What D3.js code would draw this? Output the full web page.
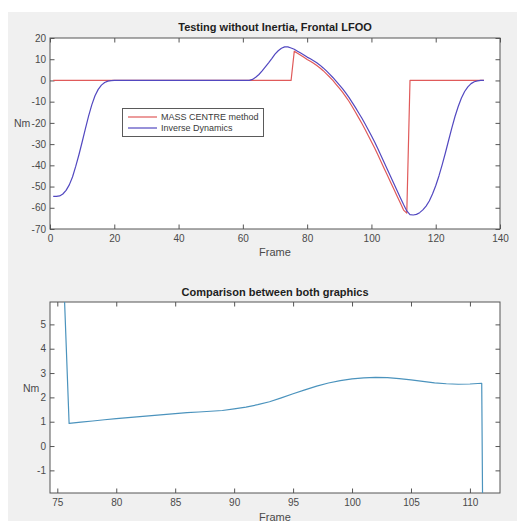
<!DOCTYPE html>
<html>
<head>
<meta charset="utf-8">
<script src="https://cdn.jsdelivr.net/npm/d3@7"></script>
<style>
  html, body { margin: 0; padding: 0; background: #ffffff; }
  svg { display: block; font-family: "Liberation Sans", Arial, sans-serif; }
</style>
</head>
<body>
<svg id="fig" width="517" height="521"></svg>
<script>
// data
// ---------------------------------------------------------

// top panel: frames 1..135
const frames = d3.range(1, 136);

const inverseDynamics = [
    -54.6, -54.6, -54.4, -53.5, -51.8, -49.2, -45.5, -40.5, -35.0, -29.0,   // 1-10
    -22.8, -16.8, -11.5, -7.2, -4.2, -2.2, -1.0, -0.3, -0.1, 0,             // 11-20
    0, 0, 0, 0, 0, 0, 0, 0, 0, 0,                                           // 21-30
    0, 0, 0, 0, 0, 0, 0, 0, 0, 0,                                           // 31-40
    0, 0, 0, 0, 0, 0, 0, 0, 0, 0,                                           // 41-50
    0, 0, 0, 0, 0, 0, 0, 0, 0, 0,                                           // 51-60
    0, 0, 0.5, 1.5, 2.8, 4.5, 6.4, 8.3, 10.3, 12.4,                         // 61-70
    14.0, 15.2, 15.8, 15.8, 15.3, 14.7, 13.8, 12.9, 12.0, 11.0,             // 71-80
    10.2, 9.3, 8.3, 7.2, 5.9, 4.5, 3.0, 1.4, -0.3, -2.1,                    // 81-90
    -3.9, -5.9, -8.0, -10.3, -12.7, -15.2, -17.7, -20.4, -23.2, -26.1,      // 91-100
    -29.0, -32.2, -35.5, -38.8, -42.1, -45.4, -48.7, -52.0, -55.3, -58.5,   // 101-110
    -61.5, -63.2, -63.4, -63.1, -62.3, -61.0, -59.2, -56.8, -53.5, -49.6,   // 111-120
    -45.0, -39.8, -34.2, -28.3, -22.5, -17.0, -12.3, -8.3, -5.2, -3.0,      // 121-130
    -1.5, -0.6, -0.2, 0, 0                                                  // 131-135
];

const massCentre = [
    0, 0, 0, 0, 0, 0, 0, 0, 0, 0,                                           // 1-10
    0, 0, 0, 0, 0, 0, 0, 0, 0, 0,                                           // 11-20
    0, 0, 0, 0, 0, 0, 0, 0, 0, 0,                                           // 21-30
    0, 0, 0, 0, 0, 0, 0, 0, 0, 0,                                           // 31-40
    0, 0, 0, 0, 0, 0, 0, 0, 0, 0,                                           // 41-50
    0, 0, 0, 0, 0, 0, 0, 0, 0, 0,                                           // 51-60
    0, 0, 0, 0, 0, 0, 0, 0, 0, 0,                                           // 61-70
    0, 0, 0, 0, 0, 13.8, 12.8, 11.9, 10.9, 9.9,                             // 71-80
    9.0, 8.1, 7.0, 5.9, 4.6, 3.1, 1.6, 0.0, -1.8, -3.6,                     // 81-90
    -5.5, -7.6, -9.8, -12.3, -14.9, -17.5, -20.2, -23.0, -25.9, -28.9,      // 91-100
    -31.8, -35.0, -38.3, -41.6, -44.8, -48.1, -51.3, -54.6, -57.8, -61.1,   // 101-110
    -62.5, 0, 0, 0, 0, 0, 0, 0, 0, 0,                                       // 111-120
    0, 0, 0, 0, 0, 0, 0, 0, 0, 0,                                           // 121-130
    0, 0, 0, 0, 0                                                           // 131-135
];

// bottom panel: frames 75..112
const compFrames = d3.range(75, 113);

const compValues = [
    14.0, 0.93, 0.98, 1.03, 1.08, 1.13,                           // 75-80
    1.17, 1.21, 1.25, 1.29, 1.33, 1.37, 1.40, 1.43, 1.46, 1.53,   // 81-90
    1.60, 1.70, 1.82, 1.98, 2.15, 2.31, 2.46, 2.59, 2.69, 2.76,   // 91-100
    2.80, 2.82, 2.81, 2.77, 2.72, 2.66, 2.60, 2.56, 2.54, 2.55,   // 101-110
    2.58, -63.2                                                   // 111-112
];

const topXTicks = [0, 20, 40, 60, 80, 100, 120, 140];
const topYTicks = [-70, -60, -50, -40, -30, -20, -10, 0, 10, 20];
const botXTicks = [75, 80, 85, 90, 95, 100, 105, 110];
const botYTicks = [-1, 0, 1, 2, 3, 4, 5];

const legendLabels = ["MASS CENTRE method", "Inverse Dynamics"];

// style
// ---------------------------------------------------------

const redColor = "#e05a5a",
      blueColor = "#5248c0",
      compColor = "#4b93bd",
      axisColor = "#555555",
      tickTextColor = "#4a4a4a",
      tickLen = 4.5;

// plain hyphen for negatives, like the original figure
const tickFmt = d => String(d);

const svg = d3.select("#fig");

// figure background
svg.append("rect")
    .attr("x", 8)
    .attr("y", 12)
    .attr("width", 509)
    .attr("height", 509)
    .attr("fill", "#f0f0f0");

function panel(opts) {
    let x = d3.scaleLinear().domain(opts.xDomain).range([opts.left, opts.right]),
        y = d3.scaleLinear().domain(opts.yDomain).range([opts.bottom, opts.top]);

    let g = svg.append("g");

    g.append("rect")
        .attr("x", opts.left)
        .attr("y", opts.top)
        .attr("width", opts.right - opts.left)
        .attr("height", opts.bottom - opts.top)
        .attr("fill", "#ffffff");

    let clipId = "clip" + opts.id;
    svg.append("clipPath")
        .attr("id", clipId)
        .append("rect")
            .attr("x", opts.left)
            .attr("y", opts.top)
            .attr("width", opts.right - opts.left)
            .attr("height", opts.bottom - opts.top);

    // axes, ticks pointing inwards on all four sides
    let axB = g.append("g")
        .attr("transform", `translate(0,${opts.bottom})`)
        .call(d3.axisBottom(x).tickValues(opts.xTicks).tickSize(-tickLen).tickPadding(6).tickFormat(tickFmt));
    let axT = g.append("g")
        .attr("transform", `translate(0,${opts.top})`)
        .call(d3.axisTop(x).tickValues(opts.xTicks).tickSize(-tickLen).tickFormat(""));
    let axL = g.append("g")
        .attr("transform", `translate(${opts.left},0)`)
        .call(d3.axisLeft(y).tickValues(opts.yTicks).tickSize(-tickLen).tickPadding(4).tickFormat(tickFmt));
    let axR = g.append("g")
        .attr("transform", `translate(${opts.right},0)`)
        .call(d3.axisRight(y).tickValues(opts.yTicks).tickSize(-tickLen).tickFormat(""));

    [axB, axT, axL, axR].forEach(ax => {
        ax.select(".domain").remove();
        ax.selectAll(".tick line").attr("stroke", axisColor);
        ax.selectAll(".tick text")
            .attr("fill", tickTextColor)
            .style("font-size", "10px")
            .style("font-family", "'Liberation Sans', Arial, sans-serif");
    });

    g.append("rect")
        .attr("x", opts.left)
        .attr("y", opts.top)
        .attr("width", opts.right - opts.left)
        .attr("height", opts.bottom - opts.top)
        .attr("fill", "none")
        .attr("stroke", axisColor)
        .attr("stroke-width", 1);

    // series
    let lineGen = d3.line()
        .x(d => x(d[0]))
        .y(d => y(d[1]));

    opts.series.forEach(s => {
        g.append("path")
            .datum(s.xs.map((f, i) => [f, s.ys[i]]))
            .attr("clip-path", `url(#${clipId})`)
            .attr("fill", "none")
            .attr("stroke", s.color)
            .attr("stroke-width", 1.2)
            .attr("stroke-linejoin", "round")
            .attr("d", lineGen);
    });

    // title and labels
    g.append("text")
        .attr("x", (opts.left + opts.right) / 2)
        .attr("y", opts.titleY)
        .attr("text-anchor", "middle")
        .attr("font-weight", "bold")
        .attr("font-size", 11)
        .attr("fill", "#1e1e1e")
        .text(opts.title);

    g.append("text")
        .attr("x", (opts.left + opts.right) / 2)
        .attr("y", opts.xLabelY)
        .attr("text-anchor", "middle")
        .attr("font-size", 11)
        .attr("fill", tickTextColor)
        .text("Frame");

    g.append("text")
        .attr("x", opts.yLabelX)
        .attr("y", opts.yLabelY)
        .attr("font-size", 10.5)
        .attr("fill", tickTextColor)
        .text("Nm");

    return {x: x, y: y, g: g};
}

// top panel
// ---------------------------------------------------------
let topPanel = panel({
    id: "top",
    left: 50, right: 500, top: 38, bottom: 229,
    xDomain: [0, 140], yDomain: [-70, 20],
    xTicks: topXTicks, yTicks: topYTicks,
    title: "Testing without Inertia, Frontal LFOO",
    titleY: 31, xLabelY: 256, yLabelX: 14, yLabelY: 127,
    series: [
        {xs: frames, ys: massCentre, color: redColor},
        {xs: frames, ys: inverseDynamics, color: blueColor}
    ]
});

// legend
let legend = topPanel.g.append("g");
legend.append("rect")
    .attr("x", 122.5)
    .attr("y", 108.5)
    .attr("width", 141)
    .attr("height", 28)
    .attr("fill", "#ffffff")
    .attr("stroke", "#5a5a5a");

[redColor, blueColor].forEach((c, i) => {
    let ly = 117 + i * 11;
    legend.append("line")
        .attr("x1", 128).attr("x2", 157)
        .attr("y1", ly).attr("y2", ly)
        .attr("stroke", c)
        .attr("stroke-width", 1.2);
    legend.append("text")
        .attr("x", 161)
        .attr("y", ly + 3.2)
        .attr("font-size", 9)
        .attr("fill", "#3a3a3a")
        .text(legendLabels[i]);
});

// bottom panel
// ---------------------------------------------------------
let bottomPanel = panel({
    id: "bot",
    left: 50, right: 500, top: 302, bottom: 493,
    xDomain: [74.38, 112.55], yDomain: [-1.93, 5.92],
    xTicks: botXTicks, yTicks: botYTicks,
    title: "Comparison between both graphics",
    titleY: 296, xLabelY: 520.5, yLabelX: 23, yLabelY: 392,
    series: [
        {xs: compFrames, ys: compValues, color: compColor}
    ]
});
</script>
</body>
</html>
